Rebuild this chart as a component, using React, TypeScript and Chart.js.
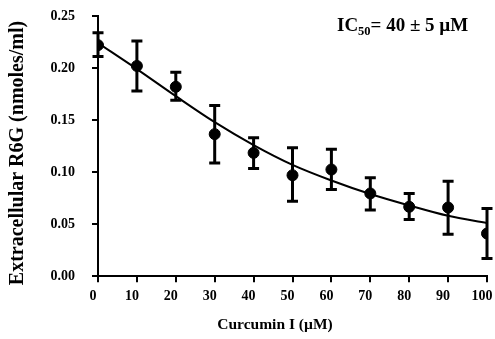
import { useEffect, useRef } from 'react';
import { Chart, registerables } from 'chart.js';
Chart.register(...registerables);

const FONT = '"Liberation Serif", "Times New Roman", serif';

// Measured data (Curcumin I concentration, µM)
const concentrations = [0, 10, 20, 30, 40, 50, 60, 70, 80, 90, 100];
const meanR6G = [0.222, 0.202, 0.182, 0.1365, 0.1185, 0.097, 0.1025, 0.0795, 0.0667, 0.066, 0.041];
const errTop = [0.234, 0.226, 0.196, 0.164, 0.133, 0.1235, 0.122, 0.0945, 0.0795, 0.0913, 0.065];
const errBottom = [0.211, 0.178, 0.169, 0.1087, 0.1035, 0.0721, 0.0833, 0.0635, 0.0545, 0.0404, 0.017];

// Fitted curve
const fitX = [0, 10, 20, 30, 40, 50, 60, 70, 80, 90, 100];
const fitY = [0.224, 0.199, 0.173, 0.148, 0.126, 0.107, 0.092, 0.079, 0.068, 0.058, 0.051];

const yTicks = [0, 0.05, 0.1, 0.15, 0.2, 0.25];

const xTitle = 'Curcumin I (\u00B5M)';
const yTitle = 'Extracellular R6G (nmoles/ml)';

const errorBarPlugin = {
  id: 'errorBars',
  afterDatasetsDraw(chart: any) {
    const ctx = chart.ctx;
    const xs = chart.scales.x;
    const ys = chart.scales.y;
    ctx.save();
    ctx.strokeStyle = '#000';
    ctx.lineWidth = 3;
    ctx.lineCap = 'butt';
    concentrations.forEach((c, i) => {
      const px = xs.getPixelForValue(c);
      const pt = ys.getPixelForValue(errTop[i]);
      const pb = ys.getPixelForValue(errBottom[i]);
      ctx.beginPath();
      ctx.moveTo(px, pt);
      ctx.lineTo(px, pb);
      ctx.moveTo(px - 5.5, pt);
      ctx.lineTo(px + 5.5, pt);
      ctx.moveTo(px - 5.5, pb);
      ctx.lineTo(px + 5.5, pb);
      ctx.stroke();
    });
    ctx.restore();
  },
  afterDraw(chart: any) {
    const ctx = chart.ctx;
    const area = chart.chartArea;
    ctx.save();
    ctx.fillStyle = '#000';
    ctx.font = `bold 15.5px ${FONT}`;
    ctx.textAlign = 'center';
    ctx.textBaseline = 'middle';
    ctx.fillText(xTitle, area.left + 177, 325);
    ctx.save();
    ctx.translate(18, 153);
    ctx.rotate(-Math.PI / 2);
    ctx.font = `bold 20px ${FONT}`;
    ctx.fillText(yTitle, 0, 0);
    ctx.restore();
    ctx.textAlign = 'left';
    ctx.textBaseline = 'alphabetic';
    let x = 337;
    const base = 31;
    ctx.font = `bold 19px ${FONT}`;
    ctx.fillText('IC', x, base);
    x += ctx.measureText('IC').width;
    ctx.font = `bold 12.5px ${FONT}`;
    ctx.fillText('50', x, base + 4);
    x += ctx.measureText('50').width;
    ctx.font = `bold 19px ${FONT}`;
    ctx.fillText('= 40 \u00B1 5 \u00B5M', x, base);
    ctx.restore();
  },
};

export default function App() {
  const ref = useRef<HTMLCanvasElement>(null);
  useEffect(() => {
    document.body.style.margin = '0';
    const chart = new Chart(ref.current!, {
      type: 'scatter',
      data: {
        datasets: [
          {
            type: 'line',
            label: 'fit',
            data: fitX.map((x, i) => ({ x, y: fitY[i] })),
            borderColor: '#000',
            borderWidth: 2,
            pointRadius: 0,
            cubicInterpolationMode: 'monotone',
            fill: false,
          } as any,
          {
            label: 'R6G',
            data: concentrations.map((x, i) => ({ x, y: meanR6G[i] })),
            backgroundColor: '#000',
            borderColor: '#000',
            pointRadius: 5.5,
            pointHoverRadius: 5.5,
          },
        ],
      },
      options: {
        responsive: false,
        animation: false,
        events: [],
        layout: { padding: { left: 33.5, top: 16, right: 0, bottom: 28 } },
        plugins: {
          legend: { display: false },
          tooltip: { enabled: false },
          title: { display: false },
        },
        scales: {
          x: {
            type: 'linear',
            min: 0,
            max: 100,
            afterFit: (s: any) => {
              s.paddingRight = 8;
              s.paddingLeft = 0;
            },
            ticks: {
              stepSize: 10,
              color: '#000',
              padding: 6,
              labelOffset: -5,
              font: { family: FONT, size: 14, weight: 'bold' },
            },
            grid: {
              drawOnChartArea: false,
              drawTicks: true,
              tickLength: 6,
              color: '#000',
              lineWidth: 2,
            },
            border: { color: '#000', width: 2 },
          },
          y: {
            type: 'linear',
            min: 0,
            max: 0.25,
            afterFit: (s: any) => {
              s.paddingTop = 0;
              s.paddingBottom = 0;
            },
            afterBuildTicks: (s: any) => {
              s.ticks = yTicks.map((v) => ({ value: v }));
            },
            ticks: {
              color: '#000',
              padding: 17,
              font: { family: FONT, size: 14, weight: 'bold' },
              callback: (v: any) => Number(v).toFixed(2),
            },
            grid: {
              drawOnChartArea: false,
              drawTicks: true,
              tickLength: 6,
              color: '#000',
              lineWidth: 2,
            },
            border: { color: '#000', width: 2 },
          },
        },
      },
      plugins: [errorBarPlugin],
    });
    return () => chart.destroy();
  }, []);
  return (
    <div style={{ width: 495, height: 339 }}>
      <canvas ref={ref} width={495} height={339} />
    </div>
  );
}
